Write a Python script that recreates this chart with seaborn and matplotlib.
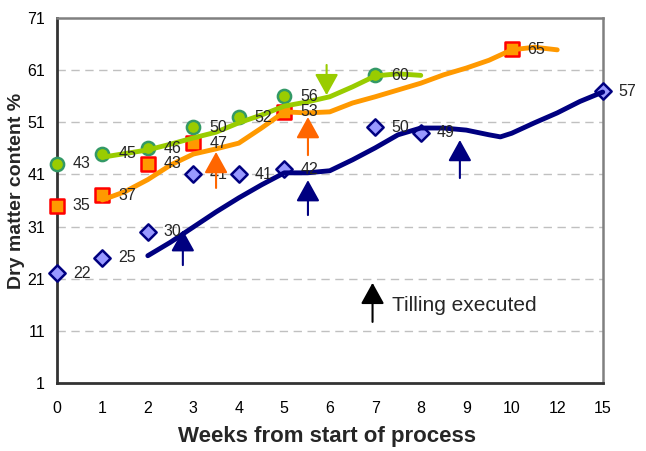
import matplotlib
matplotlib.use("Agg")
import matplotlib.pyplot as plt
import seaborn as sns
import pandas as pd

# category axis (week 11 is missing in the source chart)
week_labels = ['0', '1', '2', '3', '4', '5', '6', '7', '8', '9', '10', '12', '15']

# measured points
green_weeks = ['0', '1', '2', '3', '4', '5', '7']
green_values = [43, 45, 46, 50, 52, 56, 60]
orange_weeks = ['0', '1', '2', '3', '5', '10']
orange_values = [35, 37, 43, 47, 53, 65]
blue_weeks = ['0', '1', '2', '3', '4', '5', '7', '8', '15']
blue_values = [22, 25, 30, 41, 41, 42, 50, 49, 57]

# smoothed trend lines, every half category
green_trend_pos = [1, 1.5, 2, 2.5, 3, 3.5, 4, 4.5, 5, 5.5, 6, 6.5, 7, 7.5, 8]
green_trend = [44.3, 45.0, 45.7, 46.8, 48.0, 49.1, 50.9, 52.4, 54.1, 54.9,
               55.9, 57.8, 59.9, 60.3, 60.0]
orange_trend_pos = [1, 1.5, 2, 2.5, 3, 3.5, 4, 4.5, 5, 5.5, 6, 6.5, 7, 7.5,
                    8, 8.5, 9, 9.5, 10, 10.5, 11]
orange_trend = [36.1, 37.7, 40.0, 42.8, 44.9, 45.9, 47.0, 49.9, 53.0, 52.8,
                53.0, 54.7, 55.9, 57.2, 58.5, 60.1, 61.4, 62.9, 64.9, 65.4, 64.9]
blue_trend_pos = [2, 2.5, 3, 3.5, 4, 4.5, 5, 5.5, 6, 6.5, 7, 7.5, 8, 8.5,
                  9, 9.5, 9.75, 10, 10.5, 11, 11.5, 12]
blue_trend = [25.4, 28.0, 30.9, 33.8, 36.5, 39.0, 41.3, 41.3, 41.7, 43.8,
              46.1, 48.6, 49.9, 49.9, 49.5, 48.6, 48.2, 48.9, 50.9, 52.8, 55.0, 56.8]

# tilling arrows: category position, tail value, tip value
arrow_pos = [2.77, 5.52, 8.86, 3.5, 5.52, 5.93, 6.94]
arrow_tail = [23.6, 33.2, 40.3, 38.4, 44.7, 62.0, 12.7]
arrow_tip = [30.3, 39.9, 47.6, 45.3, 52.0, 56.2, 20.2]
arrow_colors = ['#000080', '#000080', '#000080', '#FF6600', '#FF6600', '#99CC00', 'black']

sns.set_style("white")
plt.rcParams['font.family'] = ['Liberation Sans', 'DejaVu Sans']


def pos(weeks):
    return [week_labels.index(w) for w in weeks]


fig = plt.figure(figsize=(6.46, 4.51), dpi=100)
ax = fig.add_axes([0.088, 0.151, 0.845, 0.809])

# dashed grid
for v in range(11, 71, 10):
    ax.axhline(v, color='#C0C0C0', lw=1, ls=(0, (6, 4)), zorder=0)

# markers + data labels
series = [
    (green_weeks, green_values, 'o', '#99CC00', '#339966', 9.5),
    (orange_weeks, orange_values, 's', '#FF9900', '#FF0000', 9.5),
    (blue_weeks, blue_values, 'D', '#9999FF', '#000080', 8.3),
]
for weeks, vals, mk, fc, ec, ms in series:
    df = pd.DataFrame({'x': pos(weeks), 'y': vals})
    sns.scatterplot(data=df, x='x', y='y', marker=mk, s=ms ** 2, color=fc,
                    edgecolor=ec, linewidth=1.8, ax=ax, zorder=3, clip_on=False)
    for x, y in zip(df['x'], df['y']):
        ax.annotate(str(y), (x, y), xytext=(11.5, 0), textcoords='offset points',
                    ha='left', va='center', fontsize=11.5, zorder=5)

# trend lines
trends = [
    (green_trend_pos, green_trend, '#99CC00'),
    (orange_trend_pos, orange_trend, '#FF9900'),
    (blue_trend_pos, blue_trend, '#000080'),
]
for xs, vals, col in trends:
    df = pd.DataFrame({'x': xs, 'y': vals})
    sns.lineplot(data=df, x='x', y='y', color=col, lw=3.5, ax=ax, zorder=4,
                 solid_joinstyle='round', clip_on=False)

# arrows
for x, t0, t1, c in zip(arrow_pos, arrow_tail, arrow_tip, arrow_colors):
    ax.annotate('', xy=(x, t1), xytext=(x, t0),
                arrowprops=dict(arrowstyle='-|>,head_length=0.65,head_width=0.36',
                                mutation_scale=20, lw=1.5, color=c,
                                shrinkA=0, shrinkB=0),
                zorder=6)
ax.text(7.37, 15.8, 'Tilling executed', fontsize=15, ha='left', va='center')

ax.set_xlim(0, 12)
ax.set_ylim(1, 71)
ax.set_xticks(range(len(week_labels)))
ax.set_xticklabels(week_labels)
ax.set_yticks(range(1, 72, 10))
ax.tick_params(axis='both', direction='out', length=5, width=1.2,
               colors='#333333', labelsize=11.5, labelcolor='black')
ax.tick_params(axis='x', pad=8)

for s in ['left', 'bottom']:
    ax.spines[s].set_color('#333333')
    ax.spines[s].set_linewidth(2)
for s in ['top', 'right']:
    ax.spines[s].set_color('#808080')
    ax.spines[s].set_linewidth(1.8)

ax.set_xlabel('Weeks from start of process', fontsize=16, fontweight='bold')
ax.set_ylabel('Dry matter content %', fontsize=14, fontweight='bold')
ax.xaxis.set_label_coords(0.495, -0.118)
ax.yaxis.set_label_coords(-0.058, 0.526)

fig.savefig('out.png', dpi=100)
